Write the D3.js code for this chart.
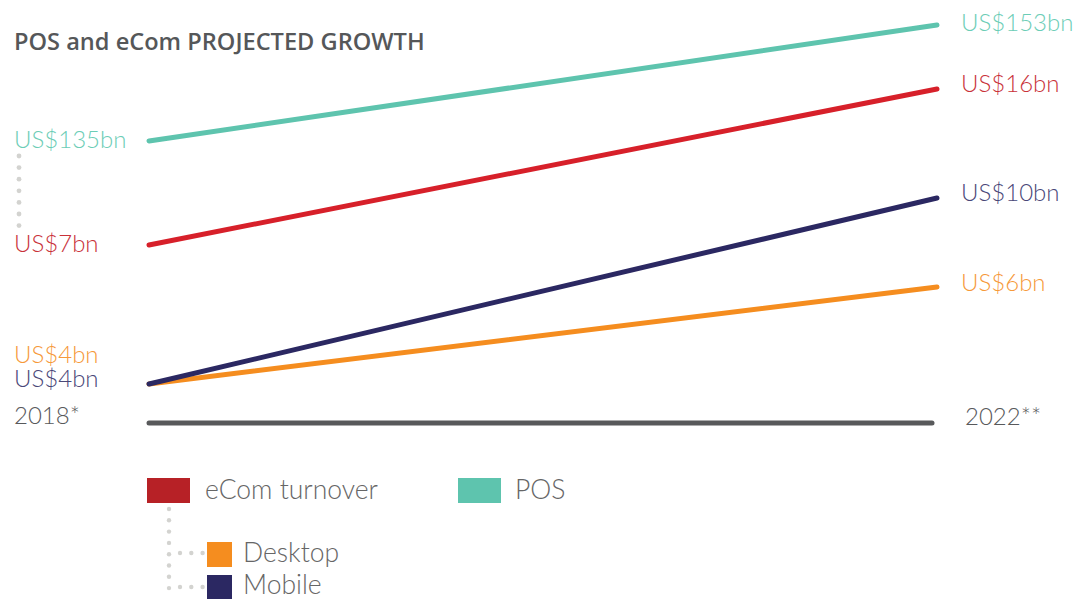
<!DOCTYPE html>
<html>
<head>
<meta charset="utf-8">
<script src="https://cdn.jsdelivr.net/npm/d3@7"></script>
<style>
  html, body { margin: 0; padding: 0; background: #fff; }
  svg { display: block; }
  .lbl { font-family: Lato, "Open Sans", sans-serif; font-weight: 300; font-size: 24px; }
  .leg { font-family: Lato, "Open Sans", sans-serif; font-weight: 300; font-size: 26.5px; }
</style>
</head>
<body>
<svg id="chart" width="1091" height="599"></svg>
<script>
// ---- data ----
const years = ["2018*", "2022**"];
const seriesNames = ["POS", "eCom turnover", "Mobile", "Desktop"];
const posValues = [135, 153];
const ecomValues = [7, 16];
const mobileValues = [4, 10];
const desktopValues = [4, 6];
const title = "POS and eCom PROJECTED GROWTH";

// ---- layout / style ----
const lineColors = { "POS": "#5ec4ae", "eCom turnover": "#d7202a", "Mobile": "#2b2862", "Desktop": "#f58d1f" };
const labelColors = { "POS": "#6ccdb6", "eCom turnover": "#c9323a", "Mobile": "#4a4778", "Desktop": "#f6993a" };
const legendColors = { "POS": "#5ec4ae", "eCom turnover": "#b72126", "Mobile": "#2b2862", "Desktop": "#f58d1f" };
// each series is drawn schematically on its own vertical band (start/end pixel rows)
const bands = {
  "POS": [141, 25],
  "eCom turnover": [245, 89],
  "Mobile": [384, 198],
  "Desktop": [384, 287]
};
const leftLabelY = { "POS": 148, "eCom turnover": 252, "Desktop": 363, "Mobile": 387 };
const rightLabelY = { "POS": 31, "eCom turnover": 92, "Mobile": 201, "Desktop": 291 };

const valuesBy = { "POS": posValues, "eCom turnover": ecomValues, "Mobile": mobileValues, "Desktop": desktopValues };

const svg = d3.select("#chart");

const x = d3.scalePoint().domain(years).range([149, 937]);

// title
svg.append("text")
  .attr("x", 14).attr("y", 50)
  .attr("font-family", "'Open Sans', sans-serif")
  .attr("font-weight", 600)
  .attr("font-size", 23.6)
  .attr("fill", "#555759")
  .text(title);

// dotted connector between left labels
const dotY = d3.range(156, 228, 11.6);
svg.selectAll("circle.ldot").data(dotY).enter().append("circle")
  .attr("class", "ldot").attr("cx", 19).attr("cy", d => d).attr("r", 2.4).attr("fill", "#d3d3d0");

// lines (drawn back to front: POS, eCom, Desktop, Mobile)
const drawOrder = ["POS", "eCom turnover", "Desktop", "Mobile"];
drawOrder.forEach(name => {
  const vals = valuesBy[name];
  const y = d3.scaleLinear().domain(d3.extent(vals)).range(bands[name]);
  const line = d3.line().x((d, i) => x(years[i])).y(d => y(d));
  svg.append("path")
    .datum(vals)
    .attr("d", line)
    .attr("fill", "none")
    .attr("stroke", lineColors[name])
    .attr("stroke-width", 5)
    .attr("stroke-linecap", "round");
});

// axis baseline
svg.append("line")
  .attr("x1", x(years[0])).attr("x2", x(years[1]) - 5)
  .attr("y1", 423).attr("y2", 423)
  .attr("stroke", "#58595b").attr("stroke-width", 5).attr("stroke-linecap", "round");

// year labels
svg.append("text").attr("class", "lbl").attr("x", 14).attr("y", 424).attr("fill", "#58595b").text(years[0]);
svg.append("text").attr("class", "lbl").attr("x", 965).attr("y", 425).attr("fill", "#58595b").text(years[1]);

// value labels
seriesNames.forEach(name => {
  const vals = valuesBy[name];
  svg.append("text").attr("class", "lbl")
    .attr("x", 14).attr("y", leftLabelY[name])
    .attr("fill", labelColors[name])
    .text("US$" + vals[0] + "bn");
  svg.append("text").attr("class", "lbl")
    .attr("x", 961).attr("y", rightLabelY[name])
    .attr("fill", labelColors[name])
    .text("US$" + vals[1] + "bn");
});

// legend
const leg = svg.append("g");
leg.append("rect").attr("x", 147).attr("y", 478).attr("width", 43).attr("height", 25).attr("fill", legendColors["eCom turnover"]);
leg.append("text").attr("class", "leg").attr("x", 205).attr("y", 499).attr("fill", "#666").text(seriesNames[1]);
leg.append("rect").attr("x", 458).attr("y", 478).attr("width", 43).attr("height", 25).attr("fill", legendColors["POS"]);
leg.append("text").attr("class", "leg").attr("x", 515).attr("y", 499).attr("fill", "#666").text(seriesNames[0]);

leg.append("rect").attr("x", 207).attr("y", 542).attr("width", 25).attr("height", 25).attr("fill", legendColors["Desktop"]);
leg.append("text").attr("class", "leg").attr("x", 243).attr("y", 562).attr("fill", "#666").text(seriesNames[3]);
leg.append("rect").attr("x", 207).attr("y", 575).attr("width", 25).attr("height", 25).attr("fill", legendColors["Mobile"]);
leg.append("text").attr("class", "leg").attr("x", 243).attr("y", 594).attr("fill", "#666").text(seriesNames[2]);

// legend dotted connectors
const vDots = d3.range(509, 590, 11.3);
leg.selectAll("circle.vd").data(vDots).enter().append("circle")
  .attr("cx", 169).attr("cy", d => d).attr("r", 2.2).attr("fill", "#d3d3d0");
[553, 587].forEach(yy => {
  leg.selectAll(null).data(d3.range(180, 205, 11.3)).enter().append("circle")
    .attr("cx", d => d).attr("cy", yy).attr("r", 2.2).attr("fill", "#d3d3d0");
});
</script>
</body>
</html>
